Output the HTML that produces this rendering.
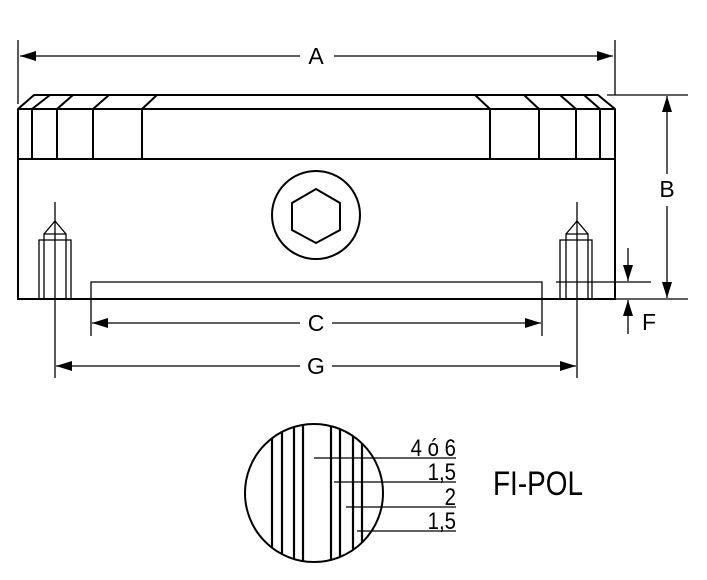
<!DOCTYPE html>
<html><head><meta charset="utf-8"><style>html,body{margin:0;padding:0;background:#fff}svg{display:block}text{font-family:"Liberation Sans",sans-serif;fill:#000}</style></head>
<body>
<svg width="707" height="580" viewBox="0 0 707 580" xmlns="http://www.w3.org/2000/svg">
<defs>
<marker id="ar" markerWidth="16" markerHeight="10" refX="16" refY="5" orient="auto" markerUnits="userSpaceOnUse"><path d="M0,0 L16,5 L0,10 Z" fill="#000"/></marker>
</defs>
<g stroke="#000" fill="none" stroke-width="2">
<path d="M34,95 H598 L615,109 V299 H18 V109 Z"/>
<line x1="18" y1="109" x2="615" y2="109"/>
<line x1="18" y1="159" x2="615" y2="159"/>
<path d="M32,109V159 M57,109V159 M93,109V159 M142,109V159"/>
<path d="M32,109L50,95 M57,109L73,95 M93,109L109,95 M142,109L157,95"/>
<path d="M490,109V159 M539,109V159 M576,109V159 M600,109V159"/>
<path d="M490,109L475,95 M539,109L524,95 M576,109L560,95 M600,109L584,95"/>
<circle cx="316" cy="215" r="44"/>
<polygon points="316,189 340,203 340,230 316,243 292,230 292,203"/>
</g>
<g stroke="#000" fill="none" stroke-width="1.3">
<path d="M39,299V240H71V299 M44,299V234H66V299 M44,240H66 M44,234L55,221L66,234"/>
<path d="M560,299V240H592V299 M566,299V234H588V299 M566,240H588 M566,234L577,221L588,234"/>
<path d="M55,202V378 M577,202V378"/>
<path d="M91,336V282H542V336 M556,282H651"/>
<path d="M18,40V104 M615,40V95 M607,95H688 M615,299H688"/>
<line x1="300" y1="56" x2="20" y2="56" marker-end="url(#ar)"/>
<line x1="334" y1="56" x2="613" y2="56" marker-end="url(#ar)"/>
<line x1="667" y1="174" x2="667" y2="96" marker-end="url(#ar)"/>
<line x1="667" y1="206" x2="667" y2="298" marker-end="url(#ar)"/>
<line x1="628" y1="248" x2="628" y2="281" marker-end="url(#ar)"/>
<line x1="628" y1="334" x2="628" y2="300" marker-end="url(#ar)"/>
<line x1="300" y1="323" x2="92" y2="323" marker-end="url(#ar)"/>
<line x1="332" y1="323" x2="541" y2="323" marker-end="url(#ar)"/>
<line x1="300" y1="366" x2="56" y2="366" marker-end="url(#ar)"/>
<line x1="332" y1="366" x2="576" y2="366" marker-end="url(#ar)"/>
</g>
<text x="316" y="64" font-size="23" text-anchor="middle">A</text>
<text x="667" y="197" font-size="23" text-anchor="middle">B</text>
<text x="649" y="330" font-size="23" text-anchor="middle">F</text>
<text x="316" y="331" font-size="23" text-anchor="middle">C</text>
<text x="316" y="374" font-size="23" text-anchor="middle">G</text>
<defs><clipPath id="cc"><circle cx="314" cy="493" r="69"/></clipPath></defs>
<g stroke="#000" stroke-width="2.2" clip-path="url(#cc)">
<path d="M272,400V600 M282,400V600 M294,400V600 M303,400V600 M331,400V600 M340,400V600 M353,400V600 M362,400V600"/>
</g>
<circle cx="314" cy="493" r="69" stroke="#000" stroke-width="2" fill="none"/>
<g stroke="#000" stroke-width="1.3">
<path d="M314,458H456 M334,482H456 M346,507H456 M357,531H456"/>
</g>
<g font-size="24" text-anchor="end" transform="translate(456 0) scale(0.85 1) translate(-456 0)">
<text x="456" y="456">4 ó 6</text>
<text x="456" y="480">1,5</text>
<text x="456" y="505">2</text>
<text x="456" y="529">1,5</text>
</g>
<text x="493" y="495" font-size="34" textLength="90" lengthAdjust="spacingAndGlyphs">FI-POL</text>
</svg>
</body></html>
